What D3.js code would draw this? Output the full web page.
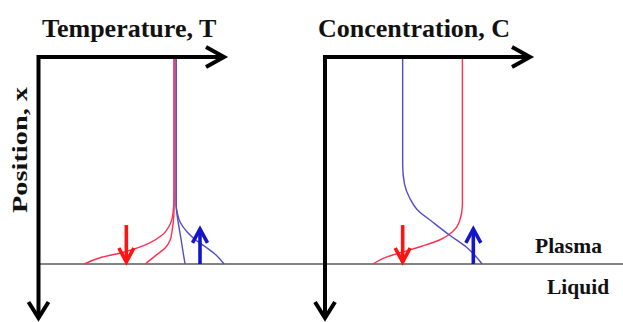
<!DOCTYPE html>
<html>
<head>
<meta charset="utf-8">
<script src="https://cdn.jsdelivr.net/npm/d3@7"></script>
<style>
  html, body { margin: 0; padding: 0; background: #fff; }
  svg { display: block; }
  text { font-family: "Liberation Serif", "Times New Roman", serif; font-weight: bold; fill: #111; }
</style>
</head>
<body>
<svg id="chart" width="623" height="322"></svg>
<script>
// Panel titles and labels
const panelTitles = ["Temperature, T", "Concentration, C"];
const positionLabel = "Position, x";
const phaseLabels = ["Plasma", "Liquid"];

// Profiles as [value, position]; value in arbitrary units 0–100,
// position 0 at the top axis, 100 at the plasma/liquid interface.
const tempRedOuter = [[72.7, 0], [72.7, 66.7], [72.2, 74.9], [70.6, 80.7], [66.3, 86.0],
                      [59.4, 89.9], [46.0, 94.2], [32.6, 97.1], [24.6, 100]];
const tempRedInner = [[72.7, 0], [72.7, 71.5], [72.5, 77.3], [71.7, 83.6], [70.6, 88.4],
                      [67.9, 92.3], [63.1, 95.7], [57.2, 100]];
const tempBlueSteep = [[73.8, 0], [73.8, 71.5], [74.3, 76.3], [75.4, 82.6], [76.5, 88.4],
                       [77.5, 94.2], [78.6, 100]];
const tempBlueShallow = [[73.8, 0], [73.8, 71.5], [74.3, 74.9], [75.9, 79.7], [79.7, 84.5],
                         [85.0, 88.9], [90.4, 92.3], [95.2, 95.7], [99.5, 100]];

const concBlue = [[37.7, 0], [37.7, 52.2], [38.6, 61.4], [41.1, 68.1], [44.9, 73.9],
                  [52.2, 79.7], [60.4, 86.0], [68.6, 91.8], [76.3, 100]];
const concRed = [[66.7, 0], [66.7, 71.5], [65.2, 79.7], [61.8, 84.5], [55.6, 88.4],
                 [47.3, 91.3], [37.7, 94.2], [30.0, 96.6], [23.2, 100]];

// Flux arrows: value position, start and end positions
const tempArrows = [
  { at: 47.1, from: 81.2, to: 100, kind: "down" },
  { at: 86.6, from: 100, to: 82.1, kind: "up" }
];
const concArrows = [
  { at: 37.7, from: 81.2, to: 100, kind: "down" },
  { at: 72.0, from: 100, to: 82.1, kind: "up" }
];

const svg = d3.select("#chart");
const W = 623;

const y = d3.scaleLinear().domain([0, 100]).range([57, 264]);
const yAxisEnd = 319;

const panels = [
  { title: panelTitles[0], x: d3.scaleLinear().domain([0, 100]).range([38.5, 225]), titleX: 42,
    reds: [tempRedOuter, tempRedInner], blues: [tempBlueSteep, tempBlueShallow], arrows: tempArrows },
  { title: panelTitles[1], x: d3.scaleLinear().domain([0, 100]).range([325, 531]), titleX: 318,
    reds: [concRed], blues: [concBlue], arrows: concArrows }
];

const colors = {
  redLine: "#ff2f52",
  blueLine: "#4f4fc4",
  redArrow: "#ff1212",
  blueArrow: "#1414c8",
  interface: "#5a5a5a"
};

// Plasma / liquid interface
svg.append("line")
  .attr("x1", panels[0].x.range()[0]).attr("x2", W)
  .attr("y1", y(100)).attr("y2", y(100))
  .attr("stroke", colors.interface).attr("stroke-width", 1.6);

panels.forEach(p => {
  const g = svg.append("g");
  const x0 = p.x.range()[0], x1 = p.x.range()[1];
  const y0 = y.range()[0];

  const line = d3.line()
    .x(d => p.x(d[0]))
    .y(d => y(d[1]))
    .curve(d3.curveMonotoneY);

  p.reds.forEach(d => g.append("path").attr("d", line(d))
    .attr("fill", "none").attr("stroke", colors.redLine).attr("stroke-width", 1.4));
  p.blues.forEach(d => g.append("path").attr("d", line(d))
    .attr("fill", "none").attr("stroke", colors.blueLine).attr("stroke-width", 1.4));

  // Flux arrows
  p.arrows.forEach(a => {
    const ax = p.x(a.at), ya = y(a.from), yb = y(a.to);
    const dir = a.kind === "down" ? 1 : -1;
    const col = a.kind === "down" ? colors.redArrow : colors.blueArrow;
    const tip = yb - dir * 2;
    g.append("line").attr("x1", ax).attr("x2", ax).attr("y1", ya).attr("y2", tip)
      .attr("stroke", col).attr("stroke-width", 3.6);
    g.append("path")
      .attr("d", `M${ax - 7.5},${tip - dir * 14} L${ax},${tip} L${ax + 7.5},${tip - dir * 14}`)
      .attr("fill", "none").attr("stroke", col).attr("stroke-width", 3.6)
      .attr("stroke-linejoin", "miter").attr("stroke-linecap", "butt");
  });

  // Axes with open arrowheads
  const ax = g.append("g").attr("fill", "none").attr("stroke", "#000")
    .attr("stroke-width", 4).attr("stroke-linecap", "butt").attr("stroke-linejoin", "miter");
  ax.append("path").attr("d", `M${x0},${yAxisEnd - 2} V${y0} H${x1 - 2}`);
  ax.append("path").attr("d", `M${x1 - 19},${y0 - 10} L${x1 - 1},${y0} L${x1 - 19},${y0 + 10}`);
  ax.append("path").attr("d", `M${x0 - 10},${yAxisEnd - 17} L${x0},${yAxisEnd - 1} L${x0 + 10},${yAxisEnd - 17}`);

  g.append("text").attr("x", p.titleX).attr("y", 37)
    .attr("font-size", 26).text(p.title);
});

// Position axis label (rotated)
svg.append("text")
  .attr("transform", "translate(27,213) rotate(-90)")
  .attr("font-size", 22)
  .attr("textLength", 126).attr("lengthAdjust", "spacingAndGlyphs")
  .text(positionLabel);

// Phase labels
svg.append("text").attr("x", 535).attr("y", 253).attr("font-size", 21.5).text(phaseLabels[0]);
svg.append("text").attr("x", 547).attr("y", 294).attr("font-size", 21.5).text(phaseLabels[1]);
</script>
</body>
</html>
